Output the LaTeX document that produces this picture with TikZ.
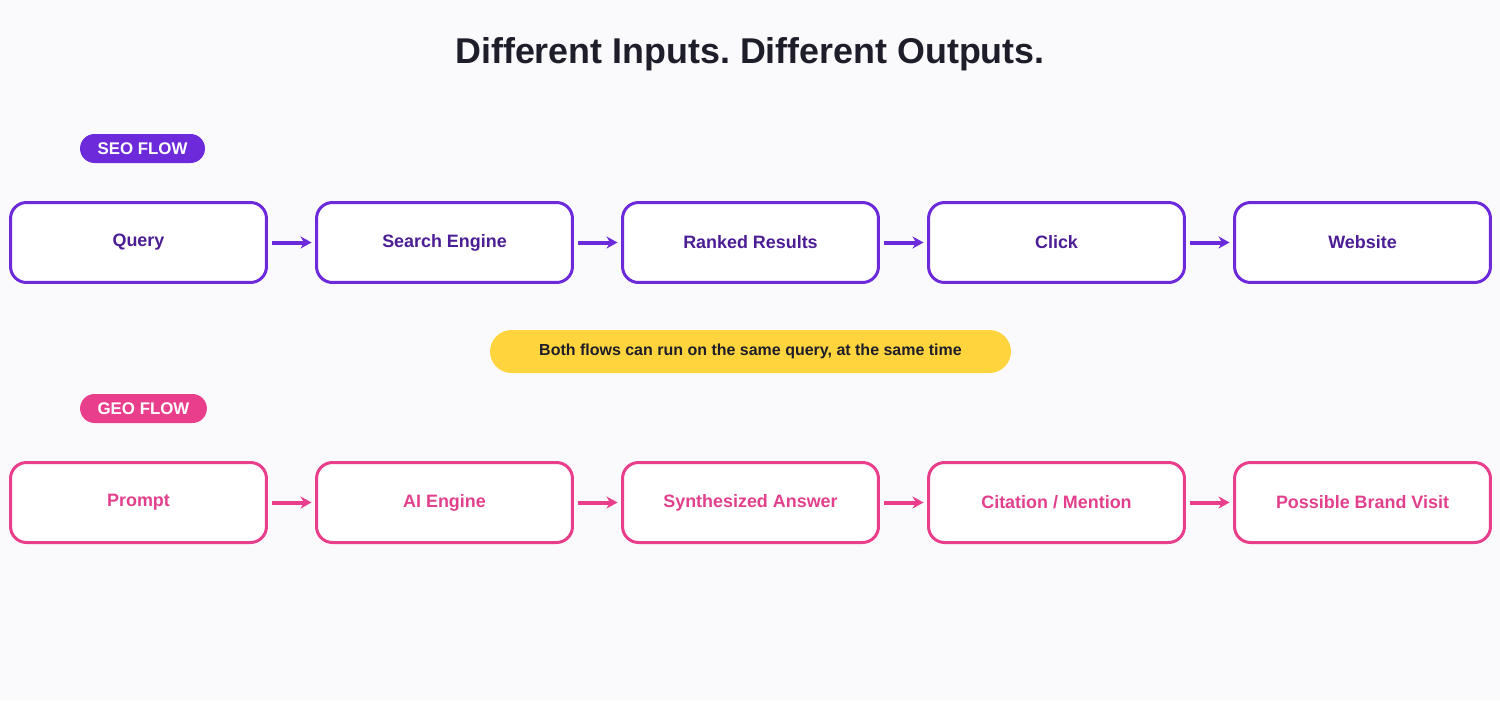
\documentclass[tikz,border=0pt]{standalone}
\usepackage{fontspec}
\setmainfont{Liberation Sans}
\usepackage{tikz}
\usetikzlibrary{arrows.meta,positioning,calc}
\frenchspacing

\definecolor{bgcol}{HTML}{FAFAFC}
\definecolor{seoline}{HTML}{6D2ADB}
\definecolor{seotext}{HTML}{4C1D95}
\definecolor{geoline}{HTML}{E83E8C}
\definecolor{geotext}{HTML}{E2408C}
\definecolor{notefill}{HTML}{FFD43D}
\definecolor{darktext}{HTML}{1E1E2A}

\begin{document}
\begin{tikzpicture}[x=0.02cm,y=-0.02cm,
  flowbox/.style={rectangle,rounded corners=0.32cm,draw,line width=0.06cm,fill=white,
    minimum width=5.12cm,minimum height=1.6cm,font=\fontsize{10.2pt}{12pt}\selectfont\bfseries},
  seobox/.style={flowbox,draw=seoline,text=seotext},
  geobox/.style={flowbox,draw=geoline,text=geotext},
  tagpill/.style={rectangle,rounded corners=0.29cm,text=white,minimum height=0.58cm,
    inner xsep=0.35cm,font=\fontsize{9.6pt}{11pt}\selectfont\bfseries},
  flowarrow/.style={line width=0.08cm,-{Stealth[length=0.22cm,width=0.24cm,inset=0.07cm]},
    shorten <=0.08cm,shorten >=0.07cm}]

% background and page size
\fill[bgcol] (0,0) rectangle (1500,700);
\useasboundingbox (0,0) rectangle (1500,700);

% title
\node[name=title,text=darktext,font=\fontsize{20.4pt}{24pt}\selectfont\bfseries] at (750,54) {Different Inputs. Different Outputs.};

% SEO flow
\node[tagpill,fill=seoline,name=seotag] at (142.5,148.5) {SEO FLOW};
\node[seobox,name=query] at (138.5,242.5) {Query};
\node[seobox,name=engine] at (444.5,242.5) {Search Engine};
\node[seobox,name=ranked] at (750.5,242.5) {Ranked Results};
\node[seobox,name=click] at (1056.5,242.5) {Click};
\node[seobox,name=website] at (1362.5,242.5) {Website};

\draw[flowarrow,seoline] (query) -- (engine);
\draw[flowarrow,seoline] (engine) -- (ranked);
\draw[flowarrow,seoline] (ranked) -- (click);
\draw[flowarrow,seoline] (click) -- (website);

% note in the middle
\node[rectangle,rounded corners=0.43cm,fill=notefill,minimum width=10.42cm,minimum height=0.86cm,
  text=darktext,font=\fontsize{9.1pt}{11pt}\selectfont\bfseries,name=note] at (750.5,351.5)
  {Both flows can run on the same query, at the same time};

% GEO flow
\node[tagpill,fill=geoline,name=geotag] at (143.5,408.5) {GEO FLOW};
\node[geobox,name=prompt] at (138.5,502.5) {Prompt};
\node[geobox,name=aiengine] at (444.5,502.5) {AI Engine};
\node[geobox,name=answer] at (750.5,502.5) {Synthesized Answer};
\node[geobox,name=citation] at (1056.5,502.5) {Citation / Mention};
\node[geobox,name=visit] at (1362.5,502.5) {Possible Brand Visit};

\draw[flowarrow,geoline] (prompt) -- (aiengine);
\draw[flowarrow,geoline] (aiengine) -- (answer);
\draw[flowarrow,geoline] (answer) -- (citation);
\draw[flowarrow,geoline] (citation) -- (visit);
\end{tikzpicture}
\end{document}
